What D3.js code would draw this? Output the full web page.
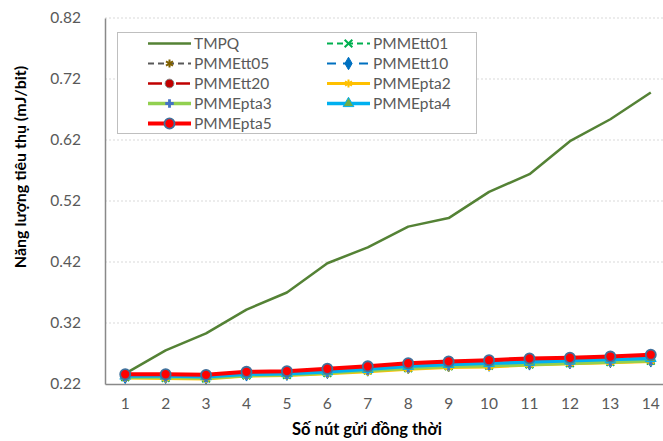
<!DOCTYPE html>
<html>
<head>
<meta charset="utf-8">
<script src="https://cdn.jsdelivr.net/npm/d3@7"></script>
<style>
  html, body { margin: 0; padding: 0; background: #fff; overflow: hidden; }
  svg { display: block; font-family: Lato, "Open Sans", sans-serif; }
</style>
</head>
<body>
<svg id="chart" width="663" height="441"></svg>
<script>
// Number of simultaneously sending nodes
const categories = ["1","2","3","4","5","6","7","8","9","10","11","12","13","14"];
const yTicks = [0.22, 0.32, 0.42, 0.52, 0.62, 0.72, 0.82];

// Energy consumption (mJ/bit) per protocol
const TMPQ      = [0.237,0.275,0.303,0.342,0.370,0.418,0.444,0.478,0.492,0.535,0.564,0.618,0.654,0.698];
const PMMEtt01  = [0.231,0.230,0.229,0.234,0.235,0.238,0.242,0.246,0.249,0.250,0.252,0.254,0.256,0.258];
const PMMEtt05  = [0.230,0.230,0.229,0.234,0.235,0.238,0.241,0.245,0.248,0.249,0.252,0.254,0.256,0.257];
const PMMEtt10  = [0.231,0.231,0.230,0.235,0.236,0.239,0.243,0.247,0.250,0.251,0.253,0.255,0.257,0.258];
const PMMEtt20  = [0.235,0.235,0.234,0.239,0.240,0.244,0.248,0.253,0.256,0.258,0.261,0.262,0.264,0.267];
const PMMEpta2  = [0.230,0.229,0.228,0.233,0.234,0.237,0.240,0.244,0.247,0.248,0.251,0.253,0.255,0.257];
const PMMEpta3  = [0.231,0.231,0.230,0.234,0.235,0.238,0.242,0.246,0.249,0.250,0.252,0.254,0.256,0.258];
const PMMEpta4  = [0.233,0.233,0.232,0.236,0.237,0.240,0.244,0.249,0.252,0.254,0.256,0.258,0.260,0.262];
const PMMEpta5  = [0.236,0.236,0.235,0.240,0.241,0.245,0.249,0.254,0.257,0.259,0.262,0.263,0.265,0.268];

const seriesNames = ["TMPQ","PMMEtt01","PMMEtt05","PMMEtt10","PMMEtt20","PMMEpta2","PMMEpta3","PMMEpta4","PMMEpta5"];
const seriesValues = [TMPQ, PMMEtt01, PMMEtt05, PMMEtt10, PMMEtt20, PMMEpta2, PMMEpta3, PMMEpta4, PMMEpta5];

const symTimes = d3.symbolTimes || d3.symbolX || d3.symbolCross;
const styles = {
  TMPQ:     { color: "#548235", width: 2.5, dash: null, marker: null },
  PMMEtt01: { color: "#00B050", width: 2, dash: "6,4", marker: { type: symTimes, size: 40, fill: "none", stroke: "#00B050", sw: 2 } },
  PMMEtt05: { color: "#595959", width: 2, dash: "6,4", marker: { type: d3.symbolAsterisk, size: 45, fill: "none", stroke: "#7F6000", sw: 2 } },
  PMMEtt10: { color: "#0070C0", width: 2, dash: "9,7", marker: { type: d3.symbolDiamond, size: 45, fill: "#0070C0", stroke: "#0070C0", sw: 1 } },
  PMMEtt20: { color: "#C00000", width: 2.5, dash: "14,6,2,6", marker: { type: d3.symbolCircle, size: 60, fill: "#C00000", stroke: "#7F7F7F", sw: 1 } },
  PMMEpta2: { color: "#FFC000", width: 3, dash: null, marker: { type: d3.symbolAsterisk, size: 45, fill: "none", stroke: "#FFC000", sw: 2 } },
  PMMEpta3: { color: "#92D050", width: 3.5, dash: null, marker: { type: d3.symbolCross, size: 40, fill: "#4472C4", stroke: "none", sw: 0 } },
  PMMEpta4: { color: "#00B0F0", width: 3.5, dash: null, marker: { type: d3.symbolTriangle, size: 50, fill: "#70AD47", stroke: "#00B0F0", sw: 1 } },
  PMMEpta5: { color: "#FF0000", width: 4, dash: null, marker: { type: d3.symbolCircle, size: 80, fill: "#FF0000", stroke: "#41719C", sw: 1.8 } }
};

const svg = d3.select("#chart");
const plot = { left: 105, right: 671, top: 18, bottom: 384 };

const x = d3.scaleBand().domain(categories).range([plot.left, plot.right]).padding(0);
const cx = d => x(d) + x.bandwidth() / 2;
const y = d3.scaleLinear().domain([0.22, 0.82]).range([plot.bottom, plot.top]);

// Dotted horizontal gridlines
svg.append("g")
  .selectAll("line")
  .data(yTicks.filter(t => t > 0.22))
  .join("line")
  .attr("x1", plot.left).attr("x2", plot.right)
  .attr("y1", d => y(d)).attr("y2", d => y(d))
  .attr("stroke", "#D9D9D9").attr("stroke-width", 1.2)
  .attr("stroke-dasharray", "2,2");

// Y axis
const yAxis = svg.append("g")
  .attr("transform", `translate(${plot.left},0)`)
  .call(d3.axisLeft(y).tickValues(yTicks).tickFormat(d3.format(".2f")).tickSize(0).tickPadding(24));
yAxis.select(".domain").attr("stroke", "#898989").attr("stroke-width", 1.5);
yAxis.selectAll("text").attr("fill", "#595959").style("font-size", "15.5px").style("font-family", "Lato, sans-serif");

// X axis
const xAxis = svg.append("g")
  .attr("transform", `translate(0,${plot.bottom})`)
  .call(d3.axisBottom(x).tickSize(0).tickPadding(14));
xAxis.select(".domain").attr("stroke", "#898989").attr("stroke-width", 1.5);
xAxis.selectAll("text").attr("fill", "#595959").style("font-size", "15.5px").style("font-family", "Lato, sans-serif");

// Axis titles
svg.append("text")
  .attr("x", 367).attr("y", 435)
  .attr("text-anchor", "middle")
  .attr("fill", "#000")
  .style("font-size", "16.5px").style("font-weight", "bold")
  .text("Số nút gửi đồng thời");

svg.append("text")
  .attr("transform", "translate(26,167) rotate(-90)")
  .attr("text-anchor", "middle")
  .attr("fill", "#000")
  .style("font-size", "16px").style("font-weight", "bold")
  .text("Năng lượng tiêu thụ (mJ/bit)");

// Series lines and markers
const line = d3.line().x((v, i) => cx(categories[i])).y(v => y(v));

seriesNames.forEach((name, si) => {
  const st = styles[name];
  const vals = seriesValues[si];
  const g = svg.append("g").attr("class", "series");
  g.append("path")
    .datum(vals)
    .attr("d", line)
    .attr("fill", "none")
    .attr("stroke", st.color)
    .attr("stroke-width", st.width)
    .attr("stroke-linejoin", "round")
    .attr("stroke-dasharray", st.dash);
  if (st.marker) {
    const m = st.marker;
    g.selectAll("path.mk")
      .data(vals)
      .join("path")
      .attr("class", "mk")
      .attr("transform", (v, i) => `translate(${cx(categories[i])},${y(v)})`)
      .attr("d", d3.symbol().type(m.type).size(m.size))
      .attr("fill", m.fill)
      .attr("stroke", m.stroke)
      .attr("stroke-width", m.sw);
  }
});

// Legend
const legend = svg.append("g");
legend.append("rect")
  .attr("x", 117.5).attr("y", 32.5).attr("width", 359).attr("height", 101)
  .attr("fill", "#fff").attr("stroke", "#BFBFBF").attr("stroke-width", 1);

seriesNames.forEach((name, i) => {
  const st = styles[name];
  const col = i % 2, row = Math.floor(i / 2);
  const sx = col === 0 ? 148 : 327;
  const sy = 43.5 + row * 20;
  const item = legend.append("g");
  item.append("line")
    .attr("x1", sx).attr("x2", sx + 43)
    .attr("y1", sy).attr("y2", sy)
    .attr("stroke", st.color)
    .attr("stroke-width", st.width)
    .attr("stroke-dasharray", st.dash);
  if (st.marker) {
    const m = st.marker;
    item.append("path")
      .attr("transform", `translate(${sx + 21.5},${sy})`)
      .attr("d", d3.symbol().type(m.type).size(m.size))
      .attr("fill", m.fill)
      .attr("stroke", m.stroke)
      .attr("stroke-width", m.sw);
  }
  item.append("text")
    .attr("x", sx + 46).attr("y", sy)
    .attr("dy", "0.35em")
    .attr("fill", "#595959")
    .style("font-size", "15.5px")
    .text(name);
});
</script>
</body>
</html>
